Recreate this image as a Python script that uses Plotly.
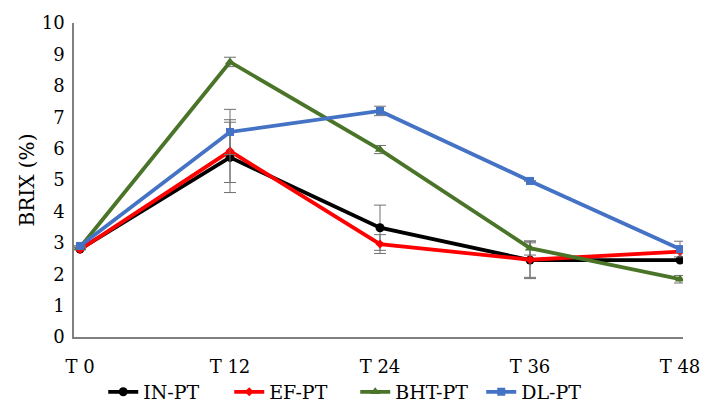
import plotly.graph_objects as go

categories = ["T 0", "T 12", "T 24", "T 36", "T 48"]
in_pt = [2.8, 5.72, 3.48, 2.45, 2.45]
in_pt_err = [0.0, 1.12, 0.72, 0.55, 0.0]
ef_pt = [2.78, 5.92, 2.96, 2.46, 2.72]
ef_pt_err = [0.0, 1.0, 0.3, 0.6, 0.0]
bht_pt = [2.85, 8.76, 5.97, 2.83, 1.84]
bht_pt_err = [0.0, 0.15, 0.13, 0.22, 0.12]
dl_pt = [2.9, 6.53, 7.2, 4.97, 2.8]
dl_pt_err = [0.0, 0.72, 0.15, 0.0, 0.25]

names = ["IN-PT", "EF-PT", "BHT-PT", "DL-PT"]
series = [in_pt, ef_pt, bht_pt, dl_pt]
errors = [in_pt_err, ef_pt_err, bht_pt_err, dl_pt_err]
colors = ["#000000", "#FF0000", "#4A7428", "#4472C4"]
symbols = ["circle", "diamond", "triangle-up", "square"]
sizes = [9, 7, 9, 8]

x_idx = list(range(len(categories)))

fig = go.Figure()
for name, ys, err, col, sym, sz in zip(names, series, errors, colors, symbols, sizes):
    fig.add_trace(go.Scatter(
        x=x_idx, y=ys, name=name, mode="lines+markers",
        line=dict(color=col, width=3.8),
        marker=dict(color=col, symbol=sym, size=sz),
        error_y=dict(type="data", array=err, visible=True,
                     color="#707070", thickness=1, width=6),
    ))

font_family = "DejaVu Serif"
fig.update_layout(
    width=704, height=405,
    margin=dict(l=74, r=21, t=23, b=68, autoexpand=False),
    paper_bgcolor="white", plot_bgcolor="white",
    font=dict(family=font_family, size=19, color="black"),
    showlegend=True,
    legend=dict(orientation="h", x=0.048, xanchor="left", y=-0.175, yanchor="middle",
                font=dict(family=font_family, size=19), itemwidth=30, tracegroupgap=0,
                entrywidth=81, bgcolor="rgba(0,0,0,0)"),
    xaxis=dict(
        tickmode="array", tickvals=x_idx, ticktext=categories,
        range=[-0.04, 4.02], showgrid=False, zeroline=False,
        showline=True, linecolor="#808080", linewidth=1.5,
        ticks="", ticklabelstandoff=13,
        tickfont=dict(family=font_family, size=18),
    ),
    yaxis=dict(
        range=[0, 10], dtick=1, showgrid=False, zeroline=False,
        showline=True, linecolor="#808080", linewidth=1.5,
        ticks="", ticklabelstandoff=4,
        tickfont=dict(family=font_family, size=18),
        title=dict(text="BRIX (%)", standoff=2, font=dict(family=font_family, size=20)),
    ),
)

fig.write_html("out.html")
